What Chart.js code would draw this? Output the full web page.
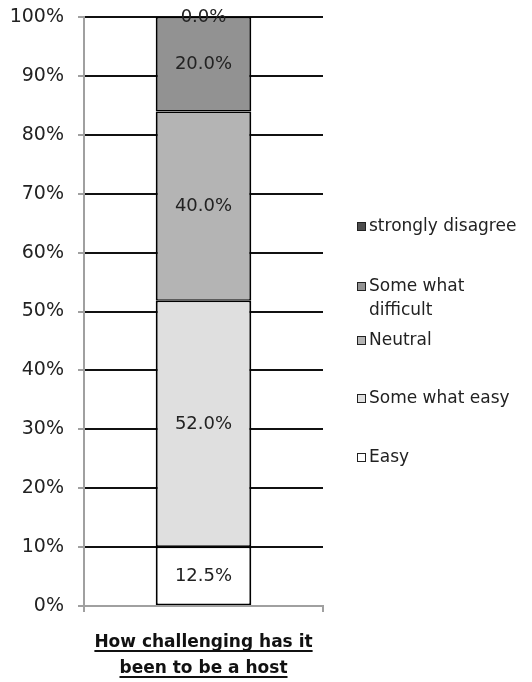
<!DOCTYPE html>
<html>
<head>
<meta charset="utf-8">
<script src="https://cdn.jsdelivr.net/npm/chart.js@4/dist/chart.umd.min.js"></script>
<style>
  html, body { margin: 0; padding: 0; background: #fff; }
  #wrap { width: 532px; height: 682px; position: relative; }
</style>
</head>
<body>
<div id="wrap"><canvas id="chart"></canvas></div>
<script>
const categories = ["How challenging has it been to be a host"];
const titleLines = ["How challenging has it", "been to be a host"];
const seriesNames = ["Easy", "Some what easy", "Neutral", "Some what difficult", "strongly disagree"];
const seriesValues = [12.5, 52.0, 40.0, 20.0, 0.0];
const seriesColors = ["#ffffff", "#dfdfdf", "#b4b4b4", "#929292", "#4d4d4d"];

const FONT = "'DejaVu Sans', sans-serif";
const total = seriesValues.reduce((a, b) => a + b, 0);

// 100% stacked: each segment is its share of the total
const datasets = seriesNames.map((name, i) => ({
  label: name,
  data: [(seriesValues[i] / total) * 100],
  raw: seriesValues[i],
  backgroundColor: seriesColors[i],
  borderColor: "#000",
  borderWidth: { left: 2, right: 2, top: 1.5, bottom: 1.5 },
  borderSkipped: false,
  barPercentage: 0.4,
  categoryPercentage: 1,
}));

// labels in the middle of each segment
const segmentLabels = {
  id: "segmentLabels",
  afterDatasetsDraw(chart) {
    const ctx = chart.ctx;
    ctx.save();
    ctx.font = "18px " + FONT;
    ctx.fillStyle = "#222";
    ctx.textAlign = "center";
    ctx.textBaseline = "middle";
    chart.data.datasets.forEach((ds, i) => {
      const bar = chart.getDatasetMeta(i).data[0];
      ctx.fillText(ds.raw.toFixed(1) + "%", bar.x, (bar.y + bar.base) / 2);
    });
    ctx.restore();
  },
};

// legend drawn by hand so the long entry can wrap
const sideLegend = {
  id: "sideLegend",
  afterDraw(chart) {
    const ctx = chart.ctx;
    const rows = [227, 287, 341, 399, 458];
    const boxX = 357, textX = 369, lineH = 24, maxW = 160;
    ctx.save();
    ctx.font = "17px " + FONT;
    ctx.textBaseline = "middle";
    ctx.textAlign = "left";
    const items = chart.data.datasets.slice().reverse();
    items.forEach((ds, k) => {
      const y = rows[k];
      ctx.fillStyle = ds.backgroundColor;
      ctx.fillRect(boxX, y - 5, 8, 8);
      ctx.strokeStyle = "#222";
      ctx.lineWidth = 1;
      ctx.strokeRect(boxX + 0.5, y - 4.5, 8, 8);
      // simple word wrap
      const words = ds.label.split(" ");
      const lines = [];
      let cur = "";
      words.forEach((w) => {
        const t = cur ? cur + " " + w : w;
        if (ctx.measureText(t).width > maxW && cur) {
          lines.push(cur);
          cur = w;
        } else cur = t;
      });
      lines.push(cur);
      ctx.fillStyle = "#222";
      lines.forEach((ln, j) => ctx.fillText(ln, textX, y + j * lineH));
    });
    ctx.restore();
  },
};

// bold underlined category title under the bar
const categoryTitle = {
  id: "categoryTitle",
  afterDraw(chart) {
    const ctx = chart.ctx;
    const xs = chart.scales.x;
    const cx = xs.getPixelForValue(0);
    ctx.save();
    ctx.font = "bold 17px " + FONT;
    ctx.fillStyle = "#111";
    ctx.textAlign = "center";
    ctx.textBaseline = "alphabetic";
    titleLines.forEach((ln, j) => {
      const y = chart.chartArea.bottom + 41 + j * 26;
      ctx.fillText(ln, cx, y);
      const w = ctx.measureText(ln).width;
      ctx.fillRect(cx - w / 2, y + 3, w, 2);
    });
    ctx.restore();
  },
};

new Chart(document.getElementById("chart"), {
  type: "bar",
  data: { labels: categories, datasets: datasets },
  options: {
    responsive: true,
    maintainAspectRatio: false,
    animation: false,
    layout: { padding: { top: 17, right: 209, left: 0, bottom: 0 } },
    plugins: {
      legend: { display: false },
      tooltip: { enabled: false },
    },
    scales: {
      x: {
        stacked: true,
        offset: true,
        ticks: { display: false },
        grid: { offset: true, drawOnChartArea: false, drawTicks: true, tickLength: 6, color: "#a0a0a0", lineWidth: 2 },
        border: { color: "#a0a0a0", width: 2 },
        afterFit: (s) => { s.height = 76; },
      },
      y: {
        stacked: true,
        min: 0,
        max: 100,
        ticks: {
          stepSize: 10,
          padding: 14,
          color: "#222",
          font: { family: FONT, size: 19 },
          callback: (v) => v + "%",
        },
        grid: {
          color: (c) => (c.tick && c.tick.value === 0 ? "#a0a0a0" : "#111"),
          lineWidth: 2,
          tickColor: "#a0a0a0",
          tickLength: 6,
        },
        border: { color: "#a0a0a0", width: 2 },
        afterFit: (s) => {
          s.width = 84;
          s.paddingTop = 0;
          s.paddingBottom = 0;
        },
      },
    },
  },
  plugins: [segmentLabels, sideLegend, categoryTitle],
});
</script>
</body>
</html>
